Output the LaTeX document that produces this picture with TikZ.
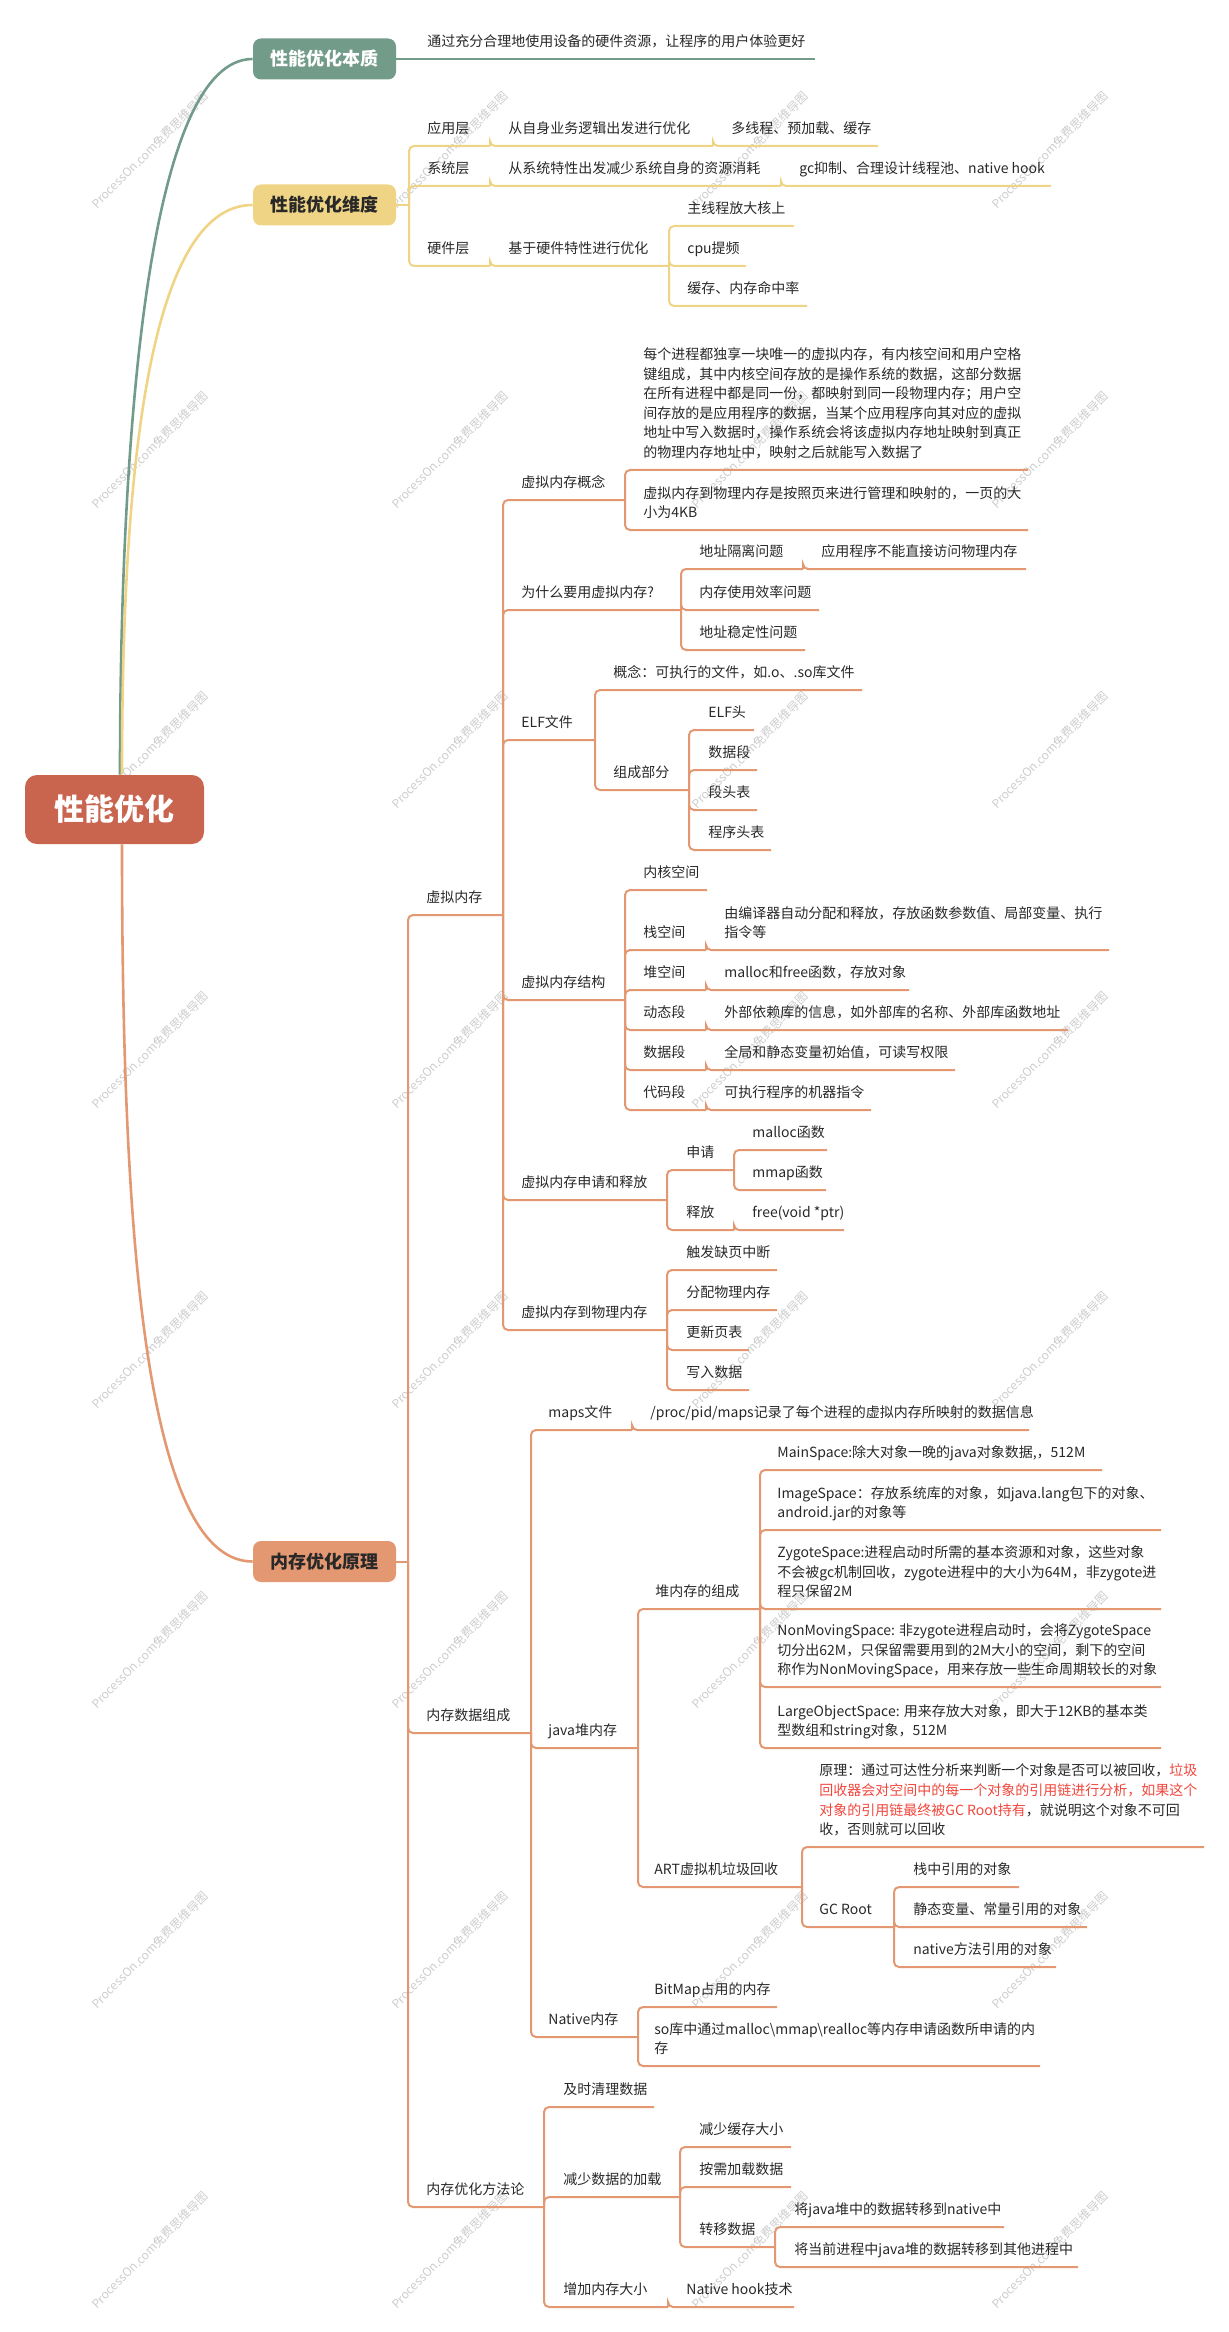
\documentclass[tikz,border=0pt]{standalone}
\usepackage{fontspec}
\setmainfont{Noto Sans CJK SC}
\definecolor{rootc}{RGB}{201,100,78}
\definecolor{gc}{RGB}{115,155,138}
\definecolor{yc}{RGB}{240,212,134}
\definecolor{oc}{RGB}{228,152,114}
\definecolor{txtc}{RGB}{40,40,40}
\definecolor{redc}{RGB}{240,70,60}
\definecolor{wmc}{RGB}{205,205,205}
\newcommand{\mmnode}[5]{\node[txt] (#1) at (#2,#3) {#5}; \coordinate (#1e) at (#4,#3);}
\newcommand{\mmconn}[3][ol]{\foreach \cc in {#3} {\draw[#1] (#2) |- (\cc e);}}
\begin{document}
\begin{tikzpicture}[x=0.5pt,y=-0.5pt,
  txt/.style={anchor=south west,inner sep=0pt,text depth=3pt,yshift=3pt,align=left,
    font=\fontsize{7}{9.8}\selectfont,text=txtc},
  wm/.style={font=\fontsize{6}{7}\selectfont,text=wmc,rotate=45,inner sep=0pt},
  ol/.style={draw=oc,line width=1pt,rounded corners=2.5pt},
  yl/.style={draw=yc,line width=1pt,rounded corners=2.5pt},
  gl/.style={draw=gc,line width=1pt},
  lbox/.style={rectangle,rounded corners=4pt,minimum width=71.5pt,minimum height=20.5pt,
    inner sep=0pt,font=\fontsize{9}{10}\selectfont\bfseries},
  curve/.style={line width=1.3pt}]
\useasboundingbox (0,0) rectangle (1229,2332);
% watermarks
\foreach \wx in {150,450,750,1050} {
  \foreach \wy in {150,450,750,1050,1350,1650,1950,2250} {
    \node[wm] at (\wx,\wy) {ProcessOn.com免费思维导图};
  }
}
% root and level-1 boxes
\node[rectangle,rounded corners=6pt,fill=rootc,minimum width=89.5pt,minimum height=34.5pt,
  inner sep=0pt,text=white,font=\fontsize{15}{16}\selectfont\bfseries] (R) at (114.5,809.5) {性能优化};
\node[lbox,fill=gc,text=white] (A) at (324.5,59) {性能优化本质};
\node[lbox,fill=yc,text=txtc] (B) at (324.5,205) {性能优化维度};
\node[lbox,fill=oc,text=txtc] (C) at (324.5,1561.5) {内存优化原理};
\draw[curve,draw=gc] ([xshift=2.75pt]R.north) .. controls (120,420) and (150,59) .. (A.west);
\draw[curve,draw=yc] ([xshift=3.75pt]R.north) .. controls (122,490) and (145,205) .. (B.west);
\draw[curve,draw=oc] ([xshift=3.75pt]R.south) .. controls (122,1200) and (140,1561.5) .. (C.west);
% section A
\mmnode{a1}{427}{59}{815}{通过充分合理地使用设备的硬件资源，让程序的用户体验更好}
\draw[gl] (A.east) -- (a1e);
% section B
\coordinate (JB) at (409,205);
\draw[yl] (B.east) -- (JB);
\mmnode{b1}{427}{146}{490}{应用层}
\mmnode{b11}{508}{146}{713}{从自身业务逻辑出发进行优化}
\mmnode{b111}{731}{146}{878}{多线程、预加载、缓存}
\mmnode{b2}{427}{186}{490}{系统层}
\mmnode{b21}{508}{186}{781}{从系统特性出发减少系统自身的资源消耗}
\mmnode{b211}{799}{186}{1051}{gc抑制、合理设计线程池、native hook}
\mmnode{b3}{427}{266}{490}{硬件层}
\mmnode{b31}{508}{266}{669}{基于硬件特性进行优化}
\mmnode{b311}{687}{226}{794}{主线程放大核上}
\mmnode{b312}{687}{266}{746}{cpu提频}
\mmnode{b313}{687}{306}{807}{缓存、内存命中率}
\mmconn[yl]{JB}{b1,b2,b3}
\mmconn[yl]{b1e}{b11}
\mmconn[yl]{b11e}{b111}
\mmconn[yl]{b2e}{b21}
\mmconn[yl]{b21e}{b211}
\mmconn[yl]{b3e}{b31}
\mmconn[yl]{b31e}{b311,b312,b313}
% section C
\coordinate (JC) at (408,1561.5);
\draw[ol] (C.east) -- (JC);
\mmnode{c1}{426}{915}{503}{虚拟内存}
\mmnode{c11}{521}{500}{625}{虚拟内存概念}
\mmnode{c111}{643}{470}{1028}{每个进程都独享一块唯一的虚拟内存，有内核空间和用户空格\\键组成，其中内核空间存放的是操作系统的数据，这部分数据\\在所有进程中都是同一份，都映射到同一段物理内存；用户空\\间存放的是应用程序的数据，当某个应用程序向其对应的虚拟\\地址中写入数据时，操作系统会将该虚拟内存地址映射到真正\\的物理内存地址中，映射之后就能写入数据了}
\mmnode{c112}{643}{530}{1028}{虚拟内存到物理内存是按照页来进行管理和映射的，一页的大\\小为4KB}
\mmnode{c12}{521}{610}{681}{为什么要用虚拟内存?}
\mmnode{c121}{699}{569}{803}{地址隔离问题}
\mmnode{c1211}{821}{569}{1026}{应用程序不能直接访问物理内存}
\mmnode{c122}{699}{610}{819}{内存使用效率问题}
\mmnode{c123}{699}{650}{805}{地址稳定性问题}
\mmnode{c13}{521}{740}{595}{ELF文件}
\mmnode{c131}{613}{690}{862}{概念：可执行的文件，如.o、.so库文件}
\mmnode{c132}{613}{790}{689}{组成部分}
\mmnode{c1321}{708}{730}{754}{ELF头}
\mmnode{c1322}{708}{770}{757}{数据段}
\mmnode{c1323}{708}{810}{757}{段头表}
\mmnode{c1324}{708}{850}{771}{程序头表}
\mmnode{c14}{521}{1000}{625}{虚拟内存结构}
\mmnode{c141}{643}{890}{707}{内核空间}
\mmnode{c142}{643}{950}{706}{栈空间}
\mmnode{c1421}{724}{950}{1109}{由编译器自动分配和释放，存放函数参数值、局部变量、执行\\指令等}
\mmnode{c143}{643}{990}{706}{堆空间}
\mmnode{c1431}{724}{990}{909}{malloc和free函数，存放对象}
\mmnode{c144}{643}{1030}{706}{动态段}
\mmnode{c1441}{724}{1030}{1068}{外部依赖库的信息，如外部库的名称、外部库函数地址}
\mmnode{c145}{643}{1070}{706}{数据段}
\mmnode{c1451}{724}{1070}{955}{全局和静态变量初始值，可读写权限}
\mmnode{c146}{643}{1110}{706}{代码段}
\mmnode{c1461}{724}{1110}{871}{可执行程序的机器指令}
\mmnode{c15}{521}{1200}{667}{虚拟内存申请和释放}
\mmnode{c151}{686}{1170}{734}{申请}
\mmnode{c1511}{752}{1150}{827}{malloc函数}
\mmnode{c1512}{752}{1190}{826}{mmap函数}
\mmnode{c152}{686}{1230}{734}{释放}
\mmnode{c1521}{752}{1230}{844}{free(void *ptr)}
\mmnode{c16}{521}{1330}{667}{虚拟内存到物理内存}
\mmnode{c161}{686}{1270}{777}{触发缺页中断}
\mmnode{c162}{686}{1310}{777}{分配物理内存}
\mmnode{c163}{686}{1350}{749}{更新页表}
\mmnode{c164}{686}{1390}{749}{写入数据}
\mmnode{c2}{426}{1733}{531}{内存数据组成}
\mmnode{c21}{548}{1430}{632}{maps文件}
\mmnode{c211}{650}{1430}{1029}{/proc/pid/maps记录了每个进程的虚拟内存所映射的数据信息}
\mmnode{c22}{548}{1748}{638}{java堆内存}
\mmnode{c221}{655}{1609}{760}{堆内存的组成}
\mmnode{c2211}{777}{1470}{1102}{MainSpace:除大对象一晚的java对象数据,，512M}
\mmnode{c2212}{777}{1530}{1161}{ImageSpace：存放系统库的对象，如java.lang包下的对象、\\android.jar的对象等}
\mmnode{c2213}{777}{1609}{1161}{ZygoteSpace:进程启动时所需的基本资源和对象，这些对象\\不会被gc机制回收，zygote进程中的大小为64M，非zygote进\\程只保留2M}
\mmnode{c2214}{777}{1687}{1161}{NonMovingSpace: 非zygote进程启动时，会将ZygoteSpace\\切分出62M，只保留需要用到的2M大小的空间，剩下的空间\\称作为NonMovingSpace，用来存放一些生命周期较长的对象}
\mmnode{c2215}{777}{1748}{1161}{LargeObjectSpace: 用来存放大对象，即大于12KB的基本类\\型数组和string对象，512M}
\mmnode{c222}{654}{1887}{802}{ART虚拟机垃圾回收}
\mmnode{c2221}{819}{1847}{1204}{原理：通过可达性分析来判断一个对象是否可以被回收，\textcolor{redc}{垃圾}\\\textcolor{redc}{回收器会对空间中的每一个对象的引用链进行分析，如果这个}\\\textcolor{redc}{对象的引用链最终被GC Root持有}，就说明这个对象不可回\\收，否则就可以回收}
\mmnode{c2222}{819}{1927}{894}{GC Root}
\mmnode{c22221}{913}{1887}{1019}{栈中引用的对象}
\mmnode{c22222}{913}{1927}{1087}{静态变量、常量引用的对象}
\mmnode{c22223}{913}{1967}{1056}{native方法引用的对象}
\mmnode{c23}{548}{2037}{638}{Native内存}
\mmnode{c231}{654}{2007}{777}{BitMap占用的内存}
\mmnode{c232}{654}{2066}{1040}{so库中通过malloc\textbackslash mmap\textbackslash realloc等内存申请函数所申请的内\\存}
\mmnode{c3}{426}{2207}{544}{内存优化方法论}
\mmnode{c31}{563}{2107}{654}{及时清理数据}
\mmnode{c32}{563}{2197}{680}{减少数据的加载}
\mmnode{c321}{699}{2147}{791}{减少缓存大小}
\mmnode{c322}{699}{2187}{791}{按需加载数据}
\mmnode{c323}{699}{2247}{775}{转移数据}
\mmnode{c3231}{794}{2227}{1004}{将java堆中的数据转移到native中}
\mmnode{c3232}{794}{2267}{1078}{将当前进程中java堆的数据转移到其他进程中}
\mmnode{c33}{563}{2307}{668}{增加内存大小}
\mmnode{c331}{686}{2307}{794}{Native hook技术}
% connectors
\mmconn{JC}{c1,c2,c3}
\mmconn{c1e}{c11,c12,c13,c14,c15,c16}
\mmconn{c11e}{c111,c112}
\mmconn{c12e}{c121,c122,c123}
\mmconn{c121e}{c1211}
\mmconn{c13e}{c131,c132}
\mmconn{c132e}{c1321,c1322,c1323,c1324}
\mmconn{c14e}{c141,c142,c143,c144,c145,c146}
\mmconn{c142e}{c1421}
\mmconn{c143e}{c1431}
\mmconn{c144e}{c1441}
\mmconn{c145e}{c1451}
\mmconn{c146e}{c1461}
\mmconn{c15e}{c151,c152}
\mmconn{c151e}{c1511,c1512}
\mmconn{c152e}{c1521}
\mmconn{c16e}{c161,c162,c163,c164}
\mmconn{c2e}{c21,c22,c23}
\mmconn{c21e}{c211}
\mmconn{c22e}{c221,c222}
\mmconn{c221e}{c2211,c2212,c2213,c2214,c2215}
\mmconn{c222e}{c2221,c2222}
\mmconn{c2222e}{c22221,c22222,c22223}
\mmconn{c23e}{c231,c232}
\mmconn{c3e}{c31,c32,c33}
\mmconn{c32e}{c321,c322,c323}
\mmconn{c323e}{c3231,c3232}
\mmconn{c33e}{c331}
\end{tikzpicture}
\end{document}
